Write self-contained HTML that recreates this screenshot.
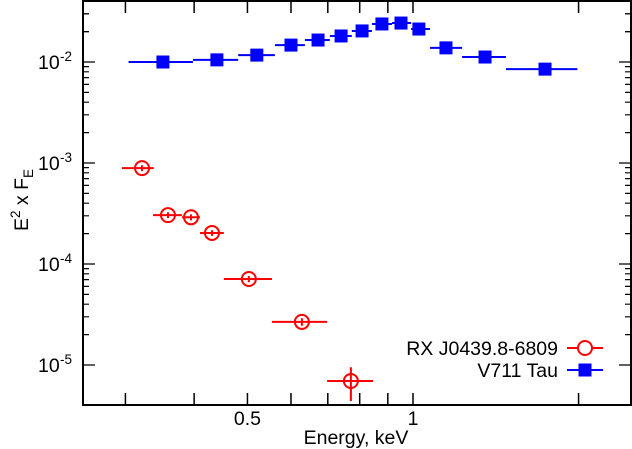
<!DOCTYPE html>
<html><head><meta charset="utf-8"><style>
html,body{margin:0;padding:0;background:#fff}
svg{display:block;font-family:"Liberation Sans",Arial,sans-serif}
</style></head><body>
<svg id="chart" width="632" height="449" viewBox="0 0 632 449">
<g id="axes"></g>
<g id="series"></g>
<g id="legend"></g>
</svg>
<script>
// V711 Tau (blue squares)
const blueE = [0.351,0.440,0.520,0.600,0.672,0.740,0.808,0.878,0.951,1.025,1.148,1.352,1.738];
const blueLo = [0.304,0.398,0.481,0.561,0.636,0.706,0.774,0.842,0.916,0.992,1.074,1.228,1.476];
const blueHi = [0.398,0.481,0.561,0.636,0.706,0.774,0.842,0.916,0.992,1.074,1.228,1.476,1.99];
const blueF = [0.0100,0.0105,0.0117,0.0147,0.0165,0.0181,0.0203,0.0238,0.0243,0.0212,0.0138,0.0112,0.0085];
// RX J0439.8-6809 (red open circles)
const redE = [0.3216,0.3585,0.3948,0.431,0.503,0.628,0.771];
const redLo = [0.2957,0.3367,0.380,0.410,0.453,0.554,0.698];
const redHi = [0.3378,0.380,0.410,0.453,0.554,0.698,0.846];
const redF = [8.9e-4,3.05e-4,2.9e-4,2.03e-4,7.1e-5,2.67e-5,6.95e-6];
const redFLo = [8.3e-4,2.85e-4,2.7e-4,1.9e-4,6.6e-5,2.45e-5,4.4e-6];
const redFHi = [9.5e-4,3.25e-4,3.1e-4,2.16e-4,7.6e-5,2.9e-5,9.5e-6];
const xTickVals = [0.3,0.4,0.5,0.6,0.7,0.8,0.9,1,2];
const xTickLabels = ["","","0.5","","","","","1",""];
const yDecades = [-5,-4,-3,-2];
const yTickLabels = ["-5","-4","-3","-2"];

const L=83,R=631,T=1,B=405;
const X=e=>413+550*Math.log10(e);
const Y=v=>62-101*(Math.log10(v)+2);
const NS="http://www.w3.org/2000/svg";
function mk(parent,tag,attrs,text){const el=document.createElementNS(NS,tag);for(const k in attrs)el.setAttribute(k,attrs[k]);if(text!==undefined)el.textContent=text;parent.appendChild(el);return el;}
const ax=document.getElementById('axes'),se=document.getElementById('series'),lg=document.getElementById('legend');

let fr=mk(ax,'rect',{x:L,y:T,width:R-L,height:B-T,fill:'none',stroke:'#000','stroke-width':2});


xTickVals.forEach((v,i)=>{const x=X(v);
 let t=mk(ax,'path',{d:`M${x},${B}V${B-12}M${x},${T}V${T+12}`,stroke:'#000','stroke-width':1.5});
 
 
 if(xTickLabels[i]){let l=mk(ax,'text',{x:x,y:425,'font-size':19.5,'text-anchor':'middle'},xTickLabels[i]);
 
 }
});
yDecades.forEach((d,i)=>{
 for(let m=1;m<10;m++){const v=m*Math.pow(10,d);const y=Y(v);if(y<T||y>B)continue;const len=m===1?12:6;
  let t=mk(ax,'path',{d:`M${L},${y}H${L+len}M${R},${y}H${R-len}`,stroke:'#000','stroke-width':1.2});
  
  }
 const y=Y(Math.pow(10,d));
 let l=mk(ax,'text',{x:38,y:y+7,'font-size':19.5},'10');
 
 
 let s=mk(ax,'text',{x:60,y:y-1,'font-size':13.5},yTickLabels[i]);
 
 
});
for(let m=2;m<10;m++){const y=Y(m*0.01);if(y<T)continue;
 let t=mk(ax,'path',{d:`M${L},${y}H${L+6}M${R},${y}H${R-6}`,stroke:'#000','stroke-width':1.2});
 
 }
let xt=mk(ax,'text',{x:356,y:444,'font-size':19.5,'text-anchor':'middle'},'Energy, keV');


let yt=mk(ax,'text',{transform:'translate(28,200) rotate(-90)','font-size':19.5,'text-anchor':'middle'});


yt.innerHTML='E<tspan dy="-8" font-size="13.5">2</tspan><tspan dy="8"> x F</tspan><tspan dy="5" font-size="13.5">E</tspan>';

blueE.forEach((e,i)=>{const y=Y(blueF[i]);
 let l=mk(se,'path',{d:`M${X(blueLo[i])},${y}H${X(blueHi[i])}`,stroke:'#0000ff','stroke-width':2});
 
 
 let s=mk(se,'rect',{x:X(e)-6.5,y:y-6.5,width:13,height:13,fill:'#0000ff'});
 
 
});
redE.forEach((e,i)=>{const x=X(e),y=Y(redF[i]);
 let l=mk(se,'path',{d:`M${X(redLo[i])},${y}H${X(redHi[i])}M${x},${Y(redFHi[i])}V${Y(redFLo[i])}`,stroke:'#ff0000','stroke-width':2});
 
 
 let c=mk(se,'circle',{cx:x,cy:y,r:7,fill:'none',stroke:'#ff0000','stroke-width':2});
 
 
});
let t1=mk(lg,'text',{x:558,y:355,'font-size':19.5,'text-anchor':'end'},'RX J0439.8-6809');


let m1=mk(lg,'path',{d:'M567,348H603',stroke:'#ff0000','stroke-width':2});


let c1=mk(lg,'circle',{cx:585,cy:348,r:7,fill:'#fff',stroke:'#ff0000','stroke-width':2});


let t2=mk(lg,'text',{x:558,y:377,'font-size':19.5,'text-anchor':'end'},'V711 Tau');


let m2=mk(lg,'path',{d:'M567,370H603',stroke:'#0000ff','stroke-width':2});


let s2=mk(lg,'rect',{x:578.5,y:363.5,width:13,height:13,fill:'#0000ff'});


</script>
</body></html>
